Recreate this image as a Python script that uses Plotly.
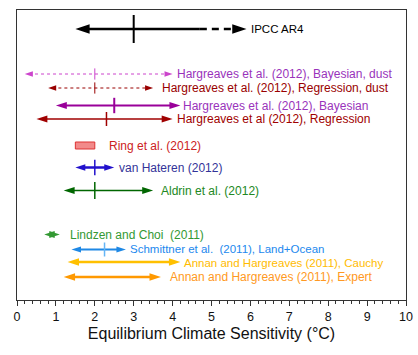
import plotly.graph_objects as go

# ---- data (°C) ----
labels = [
    "IPCC AR4",
    "Hargreaves et al. (2012), Bayesian, dust",
    "Hargreaves et al. (2012), Regression, dust",
    "Hargreaves et al. (2012), Bayesian",
    "Hargreaves et al (2012), Regression",
    "Ring et al. (2012)",
    "van Hateren (2012)",
    "Aldrin et al. (2012)",
    "Lindzen and Choi\u00a0 (2011)",
    "Schmittner et al.\u00a0 (2011), Land+Ocean",
    "Annan and Hargreaves (2011), Cauchy",
    "Annan and Hargreaves (2011), Expert",
]
low = [1.5, 0.2, 0.8, 1.0, 0.5, 1.5, 1.5, 1.2, 0.7, 1.4, 1.3, 1.2]
high = [5.9, 4.0, 3.5, 4.2, 4.0, 2.0, 2.5, 3.5, 1.1, 2.8, 4.2, 3.7]
best = [3.0, 2.0, 2.0, 2.5, 2.3, None, 2.0, 2.0, None, 2.25, None, None]
ipcc_likely_high = 4.7  # solid part of IPCC arrow ends here, dashed beyond
tick_labels = ["0", "1", "2", "3", "4", "5", "6", "7", "8", "9", "10"]
tick_values = [0, 1, 2, 3, 4, 5, 6, 7, 8, 9, 10]

# ---- styling / layout ----
W, H = 418, 355
M = dict(l=17, r=12, t=10, b=55)
px_per_unit = (W - M["l"] - M["r"]) / 10.0

row_y = [29, 74, 88, 105.5, 119, 145.5, 167.5, 190.5, 234.5, 249.5, 262, 277]
kind = ["ipcc", "arrow", "arrow", "arrow", "arrow", "box", "arrow", "arrow",
        "arrow", "arrow", "arrow", "arrow"]
line_col = ["#000000", "#CC44CC", "#990000", "#990099", "#A00000", "#DD3333",
            "#2211CC", "#006600", "#339933", "#1E88E5", "#FFC000", "#FF9900"]
text_col = ["#000000", "#9933BB", "#990000", "#9933BB", "#A00000", "#CC2222",
            "#333399", "#228822", "#339933", "#2288EE", "#FFBB00", "#FF9922"]
line_w = [2.5, 1, 1, 2, 1.5, 1, 2.5, 1.5, 4, 2, 2.5, 2.5]
line_dash = ["solid", "dot", "dot", "solid", "solid", "solid", "solid", "solid",
             "solid", "solid", "solid", "solid"]
head_size = [15, 8.5, 8.5, 11.5, 11.5, 0, 10.5, 11.5, 11, 10, 12, 12]
tick_len = [20, 8, 8, 11, 10, 0, 11, 12, 0, 10, 0, 0]
tick_w = [2, 1, 1, 2, 1.5, 0, 1.5, 1.5, 0, 1.5, 0, 0]
tick_col = ["#000000", "#CC44CC", "#990000", "#990099", "#A00000", "#000",
            "#2211CC", "#006600", "#339933", "#64B5F6", "#000", "#000"]
label_gap = [4, 4, 9, 3, 4, 14, 5, 8, 10, 4, 4, 9]
label_dy = [0, 0, 0, 0, 0, 0, 0, 0, 0, 1, -1, 0]
label_size = [11.5, 12, 12, 12, 12, 12, 12, 12, 12, 11.5, 11.5, 12]

fig = go.Figure()

for i in range(len(labels)):
    y = row_y[i]
    lo, hi = low[i], high[i]
    if kind[i] == "box":
        fig.add_trace(go.Bar(
            y=[y], x=[hi - lo], base=[lo], orientation="h", width=7,
            marker=dict(color="#F28A8A", line=dict(color=line_col[i], width=1)),
            hoverinfo="skip", showlegend=False))
    else:
        inset = head_size[i] * 0.5 / px_per_unit
        if kind[i] == "ipcc":
            fig.add_trace(go.Scatter(
                x=[lo + inset, ipcc_likely_high], y=[y, y], mode="lines",
                line=dict(color=line_col[i], width=line_w[i]),
                hoverinfo="skip", showlegend=False))
            fig.add_trace(go.Scatter(
                x=[ipcc_likely_high, hi - inset], y=[y, y], mode="lines",
                line=dict(color=line_col[i], width=line_w[i], dash="7px,5px"),
                hoverinfo="skip", showlegend=False))
        else:
            fig.add_trace(go.Scatter(
                x=[lo + inset, hi - inset], y=[y, y], mode="lines",
                line=dict(color=line_col[i], width=line_w[i], dash=line_dash[i]),
                hoverinfo="skip", showlegend=False))
        fig.add_trace(go.Scatter(
            x=[lo, hi], y=[y, y], mode="markers",
            marker=dict(symbol="arrow", angle=[-90, 90], size=head_size[i],
                        color=line_col[i], line=dict(width=0)),
            hoverinfo="skip", showlegend=False))
    if best[i] is not None:
        fig.add_trace(go.Scatter(
            x=[best[i]], y=[y], mode="markers",
            marker=dict(symbol="line-ns", size=tick_len[i],
                        line=dict(color=tick_col[i], width=tick_w[i])),
            hoverinfo="skip", showlegend=False))
    fig.add_annotation(
        x=hi, y=y, xref="x", yref="y", text=labels[i], showarrow=False,
        xanchor="left", yanchor="middle", xshift=label_gap[i],
        yshift=label_dy[i], borderpad=0, borderwidth=0,
        font=dict(family="Liberation Sans, Arial, sans-serif",
                  size=label_size[i], color=text_col[i]))

fig.update_layout(
    width=W, height=H, margin=M,
    paper_bgcolor="white", plot_bgcolor="white",
    font=dict(family="Liberation Sans, Arial, sans-serif", color="#111"),
    bargap=0,
    xaxis=dict(
        range=[0, 10], tickvals=tick_values, ticktext=tick_labels,
        automargin=False,
        showgrid=False, zeroline=False, showline=True, linecolor="#333",
        linewidth=1, mirror=True, ticks="outside", ticklen=5, tickwidth=1,
        tickcolor="#333", tickfont=dict(size=12.5, color="#111"),
        minor=dict(dtick=0.2, ticks="outside", ticklen=3, tickcolor="#333",
                   showgrid=False),
        title=dict(text="Equilibrium Climate Sensitivity (°C)",
                   font=dict(size=16, color="#111"), standoff=4),
    ),
    yaxis=dict(
        range=[300, 10], automargin=False,
        showgrid=False, zeroline=False, showline=True,
        linecolor="#333", linewidth=1, mirror=True, showticklabels=False,
        ticks="",
    ),
)

fig.write_html(
    "out.html",
    config={"displayModeBar": False, "staticPlot": True},
    post_script="document.body.style.margin='0';document.body.style.overflow='hidden';",
)
